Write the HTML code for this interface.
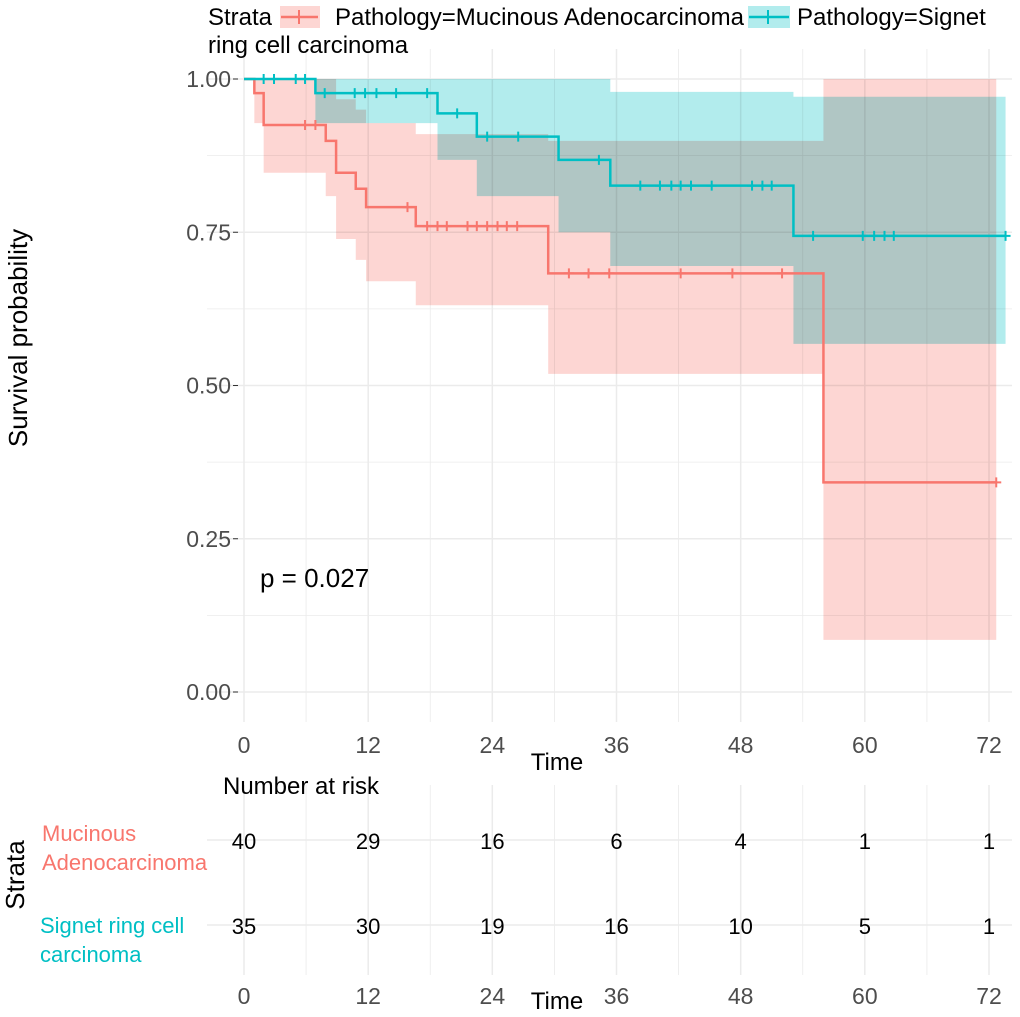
<!DOCTYPE html>
<html><head><meta charset="utf-8"><style>
body{margin:0;background:#fff;}
svg{display:block;font-family:"Liberation Sans",Arial,sans-serif;}
</style></head><body>
<svg id="c" width="1020" height="1017" viewBox="0 0 1020 1017">
<g id="grid"></g>
<g id="bands"></g>
<g id="lines"></g>
<g id="axes"></g>
<g font-size="24" fill="#000">
  <text x="208" y="25">Strata</text>
  <g>
    <line x1="281" y1="17" x2="318" y2="17" stroke="#F8766D" stroke-width="2.5"/>
    <line x1="299" y1="10" x2="299" y2="24" stroke="#F8766D" stroke-width="2"/>
    <rect x="280" y="6" width="40" height="22" fill="#F8766D" fill-opacity="0.3"/>
    <text x="335" y="25">Pathology=Mucinous Adenocarcinoma</text>
  </g>
  <g>
    <rect x="748" y="6" width="42" height="22" fill="#00BFC4" fill-opacity="0.3"/>
    <line x1="749" y1="17" x2="789" y2="17" stroke="#00BFC4" stroke-width="2.5"/>
    <line x1="768" y1="10" x2="768" y2="24" stroke="#00BFC4" stroke-width="2"/>
    <text x="797" y="25">Pathology=Signet</text>
    <text x="208" y="53">ring cell carcinoma</text>
  </g>
</g>
<text x="20" y="338" transform="rotate(-90 20 338)" text-anchor="middle" dominant-baseline="middle" font-size="26">Survival probability</text>
<text x="557" y="770" text-anchor="middle" font-size="24">Time</text>
<text x="260" y="587" font-size="26">p = 0.027</text>
<text x="223" y="794" font-size="24">Number at risk</text>
<text x="17" y="875" transform="rotate(-90 17 875)" text-anchor="middle" dominant-baseline="middle" font-size="26">Strata</text>
<g font-size="22">
  <text x="42" y="841" fill="#F8766D">Mucinous</text>
  <text x="42" y="870" fill="#F8766D">Adenocarcinoma</text>
  <text x="40" y="933" fill="#00BFC4">Signet ring cell</text>
  <text x="40" y="962" fill="#00BFC4">carcinoma</text>
</g>
<text x="557" y="1009" text-anchor="middle" font-size="24">Time</text>
<g id="risk"></g>
</svg>
<script>
const ticksX=[0,12,24,36,48,60,72];
const ticksY=[0,0.25,0.5,0.75,1.0];
const tickYLabels=["0.00","0.25","0.50","0.75","1.00"];
const mucT=[0,1,1.9,7.9,8.9,10.8,11.8,16.6,29.4,56];
const mucS=[1,0.977,0.925,0.899,0.847,0.821,0.791,0.760,0.683,0.342];
const mucL=[1,0.928,0.847,0.809,0.739,0.705,0.670,0.631,0.519,0.085];
const mucU=[1,1,1,1,0.967,0.95,0.928,0.91,0.899,1];
const mucEnd=72.7;
const mucCens=[5.9,6.9,15.8,17.7,18.7,19.6,21.6,22.5,23.5,24.5,25.4,26.4,31.4,33.3,35.3,42.2,47.2,52.0,72.7];
const sigT=[0,6.9,18.7,22.5,30.4,35.4,53.1];
const sigS=[1,0.977,0.944,0.906,0.868,0.826,0.744];
const sigL=[1,0.928,0.868,0.809,0.75,0.695,0.568];
const sigU=[1,1,1,1,1,0.979,0.971];
const sigEnd=73.6;
const sigCens=[1.9,2.9,5.0,5.9,7.8,10.7,11.7,12.8,14.7,17.7,20.6,23.5,26.5,34.3,38.3,40.2,41.3,42.2,43.2,45.2,49.1,50.1,51.0,55,59.8,60.9,61.9,62.8,73.6];
const riskMuc=[40,29,16,6,4,1,1];
const riskSig=[35,30,19,16,10,5,1];

const X=t=>244+t*(989-244)/72;
const Y=s=>692-s*613;
const NS="http://www.w3.org/2000/svg";
function mk(tag,attrs,parent){const e=document.createElementNS(NS,tag);for(const k in attrs)e.setAttribute(k,attrs[k]);parent.appendChild(e);return e;}
const grid=document.getElementById('grid'),bands=document.getElementById('bands'),lines=document.getElementById('lines'),axes=document.getElementById('axes'),risk=document.getElementById('risk');
for(let t=-6;t<=78;t+=6){const x=X(t);if(x<207||x>1012)continue;
 const g=mk('line',{x1:x,x2:x,y1:49,y2:722,stroke:'#ebebeb','stroke-width':t%12===0?1.5:0.8},grid);
 
 const g2=mk('line',{x1:x,x2:x,y1:785,y2:975,stroke:'#ebebeb','stroke-width':t%12===0?1.5:0.8},grid);
 }
for(let s=0;s<=1.0001;s+=0.125){const y=Y(s);
 const g=mk('line',{x1:207,x2:1012,y1:y,y2:y,stroke:'#ebebeb','stroke-width':Math.abs(s*4-Math.round(s*4))<1e-6?1.5:0.8},grid);
 }
[840,925].forEach(y=>{const g=mk('line',{x1:207,x2:1012,y1:y,y2:y,stroke:'#ebebeb','stroke-width':1.5},grid);
 });
function band(T,L,U,end,col,name){let top='',bot='';
 for(let i=0;i<T.length;i++){const x0=X(T[i]),x1=X(i+1<T.length?T[i+1]:end);
  top+=(i?'L':'M')+x0+','+Y(U[i])+'L'+x1+','+Y(U[i]);
  bot='L'+x1+','+Y(L[i])+'L'+x0+','+Y(L[i])+bot;}
 const p=mk('path',{d:top+bot+'Z',fill:col,'fill-opacity':0.3,style:'mix-blend-mode:multiply'},bands);
 }
function curve(T,S,end,cens,col,name){let d='';
 for(let i=0;i<T.length;i++){const x0=X(T[i]),x1=X(i+1<T.length?T[i+1]:end);
  d+=(i?'L':'M')+x0+','+Y(S[i])+'L'+x1+','+Y(S[i]);}
 const p=mk('path',{d:d,fill:'none',stroke:col,'stroke-width':2.5},lines);
 
 cens.forEach(c=>{let i=0;while(i+1<T.length&&T[i+1]<=c)i++;const x=X(c),y=Y(S[i]);
  const m=mk('path',{d:`M${x-5},${y}H${x+5}M${x},${y-5}V${y+5}`,stroke:col,'stroke-width':2},lines);
  });}
band(mucT,mucL,mucU,mucEnd,'#F8766D','ci-band-mucinous');
band(sigT,sigL,sigU,sigEnd,'#00BFC4','ci-band-signet');
curve(mucT,mucS,mucEnd,mucCens,'#F8766D','curve-mucinous');
curve(sigT,sigS,sigEnd,sigCens,'#00BFC4','curve-signet');
ticksY.forEach((s,i)=>{const t=mk('text',{x:231,y:Y(s)+8,'text-anchor':'end','font-size':23,fill:'#4d4d4d'},axes);t.textContent=tickYLabels[i];
 
 const l=mk('line',{x1:233,x2:238,y1:Y(s),y2:Y(s),stroke:'#333','stroke-width':1},axes);
 });
ticksX.forEach(v=>{const t=mk('text',{x:X(v),y:753,'text-anchor':'middle','font-size':23,fill:'#4d4d4d'},axes);t.textContent=v;
 
 const t2=mk('text',{x:X(v),y:1004,'text-anchor':'middle','font-size':23,fill:'#4d4d4d'},risk);t2.textContent=v;
 });
ticksX.forEach((v,i)=>{const a=mk('text',{x:X(v),y:849,'text-anchor':'middle','font-size':22,fill:'#000'},risk);a.textContent=riskMuc[i];
 
 const b=mk('text',{x:X(v),y:934,'text-anchor':'middle','font-size':22,fill:'#000'},risk);b.textContent=riskSig[i];
 });
</script>
</body></html>
